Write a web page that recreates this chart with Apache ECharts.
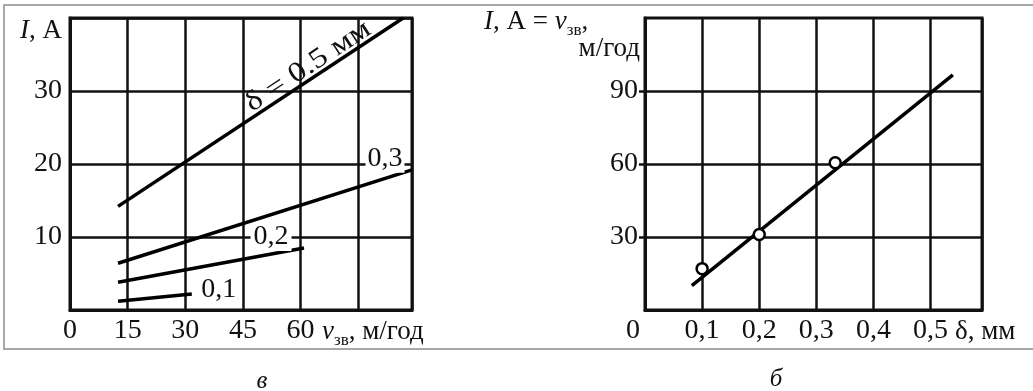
<!DOCTYPE html>
<html>
<head>
<meta charset="utf-8">
<script src="https://cdn.jsdelivr.net/npm/echarts@6/dist/echarts.min.js"></script>
<style>
  html, body { margin: 0; background: #fff; }
  #chart { width: 1033px; height: 391px; }
</style>
</head>
<body>
<div id="chart"></div>
<script>
// рис. в: I від v_зв при різних δ (кінці відрізків, [v_зв, I])
const vzvMax = 89;
const iMax = 40;
const line05 = [[12.5, 14.2], [86.7, 40]];
const line03 = [[12.5, 6.4], [89, 19.2]];
const line02 = [[12.5, 3.8], [60.9, 8.5]];
const line01 = [[12.5, 1.2], [31.7, 2.2]];

// рис. б: I = v_зв від δ
const deltaMax = 0.59;
const vMax = 120;
const fitLine = [[0.082, 10], [0.539, 96.6]];
const measured = [[0.1, 17], [0.2, 31], [0.333, 60.5]];

const serif = '"Liberation Serif", "DejaVu Serif", serif';
const ink = '#111';

const labelStyle = { fontFamily: serif, fontSize: 28, color: ink };
const split = { show: true, lineStyle: { color: ink, width: 2.5 } };
const lineOf = { color: '#000', width: 3.5 };

const comma = v => v.toFixed(1).replace('.', ',');

const chart = echarts.init(document.getElementById('chart'));

chart.setOption({
  animation: false,
  backgroundColor: '#fff',
  grid: [
    { left: 70, top: 18, width: 342, height: 292, show: true, borderColor: ink, borderWidth: 3 },
    { left: 645, top: 18, width: 337, height: 292, show: true, borderColor: ink, borderWidth: 3 }
  ],
  xAxis: [
    {
      type: 'value', gridIndex: 0, min: 0, max: vzvMax, interval: 15,
      axisLine: { show: true, lineStyle: { color: ink, width: 3 } },
      axisTick: { show: false },
      splitLine: split,
      axisLabel: Object.assign({ margin: 7, formatter: v => (v <= 60 ? String(v) : '') }, labelStyle)
    },
    {
      type: 'value', gridIndex: 1, min: 0, max: deltaMax, interval: 0.1,
      axisLine: { show: true, lineStyle: { color: ink, width: 3 } },
      axisTick: { show: false },
      splitLine: split,
      axisLabel: Object.assign({
        margin: 7,
        formatter: v => (v === 0 ? '{z|0}' : (v < 0.55 ? comma(v) : '')),
        rich: { z: { fontFamily: serif, fontSize: 28, color: ink, padding: [0, 24, 0, 0] } }
      }, labelStyle)
    }
  ],
  yAxis: [
    {
      type: 'value', gridIndex: 0, min: 0, max: iMax, interval: 10,
      axisLine: { show: true, lineStyle: { color: ink, width: 3 } },
      axisTick: { show: false },
      splitLine: split,
      axisLabel: Object.assign({ margin: 8, formatter: v => (v > 0 && v < iMax ? String(v) : '') }, labelStyle)
    },
    {
      type: 'value', gridIndex: 1, min: 0, max: vMax, interval: 30,
      axisLine: { show: true, lineStyle: { color: ink, width: 3 } },
      axisTick: { show: true, length: 6, customValues: [30, 60, 90], lineStyle: { color: ink, width: 2.5 } },
      splitLine: split,
      axisLabel: Object.assign({ margin: 7, formatter: v => (v > 0 && v < vMax ? String(v) : '') }, labelStyle)
    }
  ],
  series: [
    { type: 'line', xAxisIndex: 0, yAxisIndex: 0, data: line05, symbol: 'none', lineStyle: lineOf, silent: true },
    { type: 'line', xAxisIndex: 0, yAxisIndex: 0, data: line03, symbol: 'none', lineStyle: lineOf, silent: true },
    { type: 'line', xAxisIndex: 0, yAxisIndex: 0, data: line02, symbol: 'none', lineStyle: lineOf, silent: true },
    { type: 'line', xAxisIndex: 0, yAxisIndex: 0, data: line01, symbol: 'none', lineStyle: lineOf, silent: true },
    { type: 'line', xAxisIndex: 1, yAxisIndex: 1, data: fitLine, symbol: 'none', lineStyle: lineOf, silent: true },
    {
      type: 'scatter', xAxisIndex: 1, yAxisIndex: 1, data: measured, symbol: 'circle', symbolSize: 11,
      itemStyle: { color: '#fff', borderColor: '#000', borderWidth: 2.5, opacity: 1 }, silent: true, z: 5
    }
  ]
});

// підписи кривих та осей
const px = (g, p) => chart.convertToPixel({ gridIndex: g }, p);
const rich = {
  i: { fontFamily: serif, fontSize: 27, fontStyle: 'italic', fill: ink, lineHeight: 30, verticalAlign: 'top' },
  n: { fontFamily: serif, fontSize: 27, fill: ink, lineHeight: 30, verticalAlign: 'top' },
  s: { fontFamily: serif, fontSize: 17, fill: ink, lineHeight: 17, verticalAlign: 'top', padding: [14, 0, 0, 0] }
};

function tag(g, pt, dx, dy, text, extra) {
  const p = px(g, pt);
  return {
    type: 'text', z: 100, x: p[0] + dx, y: p[1] + dy,
    style: Object.assign({ text: text, font: '28px ' + serif, fill: ink, align: 'center', verticalAlign: 'middle' }, extra || {})
  };
}

const a = px(0, line05[0]);
const b = px(0, line05[1]);
const t = 0.69;
const rot = Math.atan2(a[1] - b[1], b[0] - a[0]);

chart.setOption({
  graphic: [
    { type: 'rect', z: 100, shape: { x: 4, y: 5, width: 1040, height: 344 }, style: { fill: 'none', stroke: '#a8a8a8', lineWidth: 2 } },
    tag(0, line03[1], -27, -11, '0,3', { backgroundColor: '#fff', padding: [0, 2] }),
    tag(0, line02[1], -33, -11, '0,2', { backgroundColor: '#fff', padding: [0, 3] }),
    tag(0, line01[1], 27, -4, '0,1'),
    {
      type: 'text', z: 100,
      x: a[0] + t * (b[0] - a[0]) + 2 * Math.sin(rot), y: a[1] + t * (b[1] - a[1]) + 2 * Math.cos(rot),
      rotation: rot, scaleX: 1.2,
      style: { text: 'δ = 0.5 мм', font: '28px ' + serif, fill: ink, align: 'center', verticalAlign: 'bottom' }
    },
    { type: 'text', z: 100, x: 62, y: 17, style: { text: '{i|I}{n|, А}', rich: rich, align: 'right', verticalAlign: 'top' } },
    { type: 'text', z: 100, x: 322, y: 318, style: { text: '{i|v}{s|зв}{n|, м/год}', rich: rich, align: 'left', verticalAlign: 'top' } },
    { type: 'text', z: 100, x: 484, y: 8, style: { text: '{i|I}{n|, А = }{i|v}{s|зв}{n|,}', rich: rich, align: 'left', verticalAlign: 'top' } },
    { type: 'text', z: 100, x: 640, y: 35, style: { text: '{n|м/год}', rich: rich, align: 'right', verticalAlign: 'top' } },
    { type: 'text', z: 100, x: 955, y: 318, style: { text: '{n|δ, мм}', rich: rich, align: 'left', verticalAlign: 'top' } },
    { type: 'text', z: 100, x: 262, y: 381, style: { text: 'в', font: 'italic 25px ' + serif, fill: ink, align: 'center', verticalAlign: 'middle' } },
    { type: 'text', z: 100, x: 776, y: 379, style: { text: 'б', font: 'italic 25px ' + serif, fill: ink, align: 'center', verticalAlign: 'middle' } }
  ]
});
</script>
</body>
</html>
